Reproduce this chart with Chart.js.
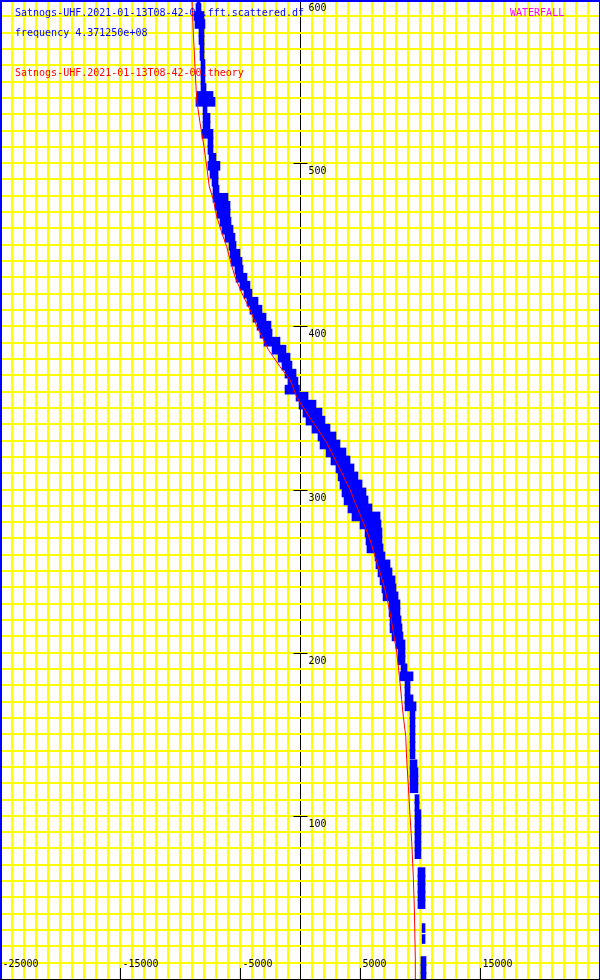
<!DOCTYPE html>
<html>
<head>
<meta charset="utf-8">
<script src="https://cdn.jsdelivr.net/npm/chart.js@4"></script>
<style>
  body { margin: 0; background: #fff; }
  #wrap { position: relative; width: 600px; height: 980px; }
  canvas { display: block; }
  .lbl { position: absolute; font: 10px "DejaVu Sans Mono", monospace; line-height: 10px; white-space: pre; pointer-events: none; }
</style>
</head>
<body>
<div id="wrap">
  <canvas id="waterfall" width="600" height="980"></canvas>
  <div class="lbl" style="left:15px; top:8px; color:#0000ff;">Satnogs-UHF.2021-01-13T08-42-00.fft.scattered.df</div>
  <div class="lbl" style="left:15px; top:28px; color:#0000ff;">frequency 4.371250e+08</div>
  <div class="lbl" style="left:15px; top:68px; color:#ff0000;">Satnogs-UHF.2021-01-13T08-42-00.theory</div>
  <div class="lbl" style="left:510px; top:8px; color:#ff00ff;">WATERFALL</div>
</div>
<script>
// Theory doppler curve (time in s, frequency offset in Hz)
const theoryTime = [0, 12.2, 42.9, 63.1, 83.9, 99.8, 118.2, 134.7, 148.8, 161.0, 171.4, 185.5, 200.2, 212.5,
  224.7, 238.8, 249.2, 259.0, 269.4, 279.8, 289.6, 300.0, 316.5, 328.8, 341.0, 353.2, 356.9, 367.3, 375.3,
  385.7, 399.8, 410.2, 420.6, 430.4, 440.8, 448.9, 457.4, 467.3, 477.6, 485.6, 497.8, 510.0, 524.7, 538.7,
  559.0, 579.8, 600];
const theoryFreq = [9640, 9610, 9530, 9440, 9310, 9170, 9030, 8890, 8810, 8610, 8470, 8280, 8060, 7780,
  7500, 7080, 6670, 6250, 5830, 5280, 4720, 4170, 3060, 2220, 1110, 0, -280, -830, -1670,
  -2640, -3580, -4170, -4860, -5420, -5830, -6110, -6520, -6940, -7220, -7560, -7770, -8000, -8330, -8610,
  -8750, -8890, -9000];

// Scattered detections: time row and the low / high edge of the band (Hz)
const scatterTime = [1.2, 6.1, 11.0, 24.5, 31.2, 45.9, 50.8, 55.7, 60.6, 65.5, 76.5, 81.4, 86.3, 91.2, 96.1,
  101.0, 105.9, 110.2, 116.9, 121.8, 126.7, 131.6, 137.8, 142.7, 147.6, 152.4, 157.3, 162.2, 167.1, 171.4,
  176.3, 181.2, 185.5, 190.4, 195.3, 200.2, 205.1, 210.0, 214.9, 219.8, 224.7, 229.6, 234.5, 239.4, 244.3,
  249.2, 254.1, 259.0, 263.9, 268.8, 273.7, 278.6, 283.5, 288.4, 293.3, 298.2, 303.1, 308.0, 312.9, 317.8,
  322.7, 327.6, 332.5, 337.3, 342.2, 347.1, 352.0, 356.9, 361.2, 366.1, 371.0, 375.9, 380.8, 385.7, 390.6,
  395.5, 400.4, 405.3, 410.2, 415.1, 420.0, 424.9, 429.8, 434.7, 439.6, 444.5, 449.4, 454.3, 459.2, 464.1,
  469.0, 473.9, 478.8, 483.7, 488.6, 493.5, 498.4, 503.3, 508.2, 513.1, 518.0, 522.9, 527.8, 532.7, 537.6,
  541.2, 546.1, 551.0, 555.9, 560.8, 565.7, 570.6, 575.5, 580.4, 585.3, 590.2, 595.1, 600.0];
const scatterLo = [10080, 10080, 10080, 10170, 10170, 9830, 9830, 9830, 9830, 9830, 9580, 9580, 9580, 9580, 9580,
  9580, 9580, 9580, 9170, 9170, 9170, 9170, 9170, 9170, 9170, 9170, 9170, 9170, 8750, 8750,
  8750, 8750, 8330, 8420, 8170, 8170, 8000, 7670, 7500, 7500, 7420, 7420, 6920, 6830, 6670,
  6500, 6330, 6250, 5580, 5500, 5420, 5000, 4330, 4000, 3670, 3500, 3330, 3170, 3000, 2580,
  2170, 1670, 1500, 1000, 500, 250, -80, -330, -1250, -1000, -1250, -1500, -1830, -2330, -3000,
  -3330, -3580, -3920, -4170, -4420, -4670, -5000, -5330, -5420, -5750, -5830, -5920, -6250, -6500, -6670,
  -6920, -7080, -7250, -7250, -7330, -7500, -7670, -7580, -7670, -7670, -8170, -8080, -8080, -8080, -8670,
  -8580, -8250, -8250, -8250, -8250, -8330, -8330, -8420, -8420, -8750, -8830, -8670, -8580];
const scatterHi = [10500, 10500, 10500, 10420, 10420, 10420, 10420, 10420, 10420, 10420, 10080, 10080, 10080, 10080, 10080,
  10080, 9920, 9920, 9830, 9830, 9830, 9750, 9580, 9580, 9580, 9580, 9580, 9580, 9670, 9420,
  9170, 9170, 9420, 8920, 8750, 8750, 8750, 8580, 8500, 8420, 8330, 8330, 8170, 8000, 7920,
  7670, 7500, 7080, 6920, 6830, 6830, 6750, 6670, 6000, 5670, 5500, 5170, 4830, 4500, 4170,
  3830, 3330, 3000, 2500, 2080, 1830, 1330, 670, 0, -170, -330, -670, -830, -1170, -1670,
  -2330, -2420, -2830, -3170, -3500, -4000, -4170, -4420, -4750, -4830, -5000, -5330, -5420, -5580, -5750,
  -5830, -5830, -6000, -6750, -6830, -6830, -6670, -7000, -7250, -7250, -7250, -7500, -7500, -7750, -7080,
  -7250, -7830, -7920, -7920, -7920, -8000, -8000, -8000, -8000, -7920, -8000, -8250, -8330];

// Axis labels
const xTickLabels = [-25000, -15000, -5000, 5000, 15000];
const yTickLabels = [100, 200, 300, 400, 500, 600];

// Draws tick marks, tick labels and frame the way gnuplot does
const axisDecor = {
    id: 'axisDecor',
    afterDatasetsDraw(chart) {
        const { ctx, chartArea, scales: { x, y } } = chart;
        const x0 = Math.round(x.getPixelForValue(0)) + 0.5;
        const bottom = chartArea.bottom;
        ctx.save();
        ctx.strokeStyle = '#000000';
        ctx.fillStyle = '#000000';
        ctx.lineWidth = 1;
        ctx.font = '10px "DejaVu Sans Mono", monospace';
        ctx.textBaseline = 'middle';
        ctx.textAlign = 'left';
        yTickLabels.forEach(v => {
            const py = Math.round(y.getPixelForValue(v)) + 0.5;
            ctx.beginPath();
            ctx.moveTo(x0 - 7, py);
            ctx.lineTo(x0 + 7, py);
            ctx.stroke();
            ctx.fillText(String(v), x0 + 8, py + 8);
        });
        xTickLabels.forEach(v => {
            const px = Math.round(x.getPixelForValue(v)) + 0.5;
            ctx.beginPath();
            ctx.moveTo(px, bottom - 11);
            ctx.lineTo(px, bottom);
            ctx.stroke();
            ctx.fillText(String(v), px + 2, bottom - 15);
        });
        ctx.fillStyle = '#0000ff';
        ctx.fillRect(0, 0, 2, bottom);
        ctx.fillRect(0, 0, chart.width, 2);
        ctx.fillRect(chart.width - 1, 0, 1, bottom);
        ctx.restore();
    }
};

const gridColor = c => (c.tick.value === 0 ? '#000000' : '#ffff00');
const gridWidth = c => (c.tick.value === 0 ? 1 : 2);

const waterfallChart = new Chart(document.getElementById('waterfall'), {
    type: 'bar',
    data: {
        datasets: [
            {
                type: 'line',
                label: 'theory',
                data: theoryTime.map((t, i) => ({ x: theoryFreq[i], y: t })),
                borderColor: '#ff0000',
                borderWidth: 1,
                pointRadius: 0,
                order: 0
            },
            {
                type: 'bar',
                label: 'scattered',
                data: scatterTime.map((t, i) => ({ y: t, x: [scatterLo[i], scatterHi[i]] })),
                backgroundColor: '#0000ff',
                borderWidth: 0,
                barThickness: 9,
                order: 1
            }
        ]
    },
    options: {
        indexAxis: 'y',
        responsive: false,
        animation: false,
        devicePixelRatio: 1,
        layout: { padding: { bottom: 1 } },
        plugins: { legend: { display: false }, tooltip: { enabled: false } },
        scales: {
            x: {
                type: 'linear', min: -25000, max: 25000, offset: false,
                border: { display: false },
                ticks: { display: false, stepSize: 1000 },
                grid: { offset: false, drawTicks: false, color: gridColor, lineWidth: gridWidth }
            },
            y: {
                type: 'linear', min: 0, max: 600, offset: false,
                border: { display: false },
                ticks: { display: false, stepSize: 10 },
                grid: { offset: false, drawTicks: false, color: gridColor, lineWidth: gridWidth }
            }
        }
    },
    plugins: [axisDecor]
});
</script>
</body>
</html>
